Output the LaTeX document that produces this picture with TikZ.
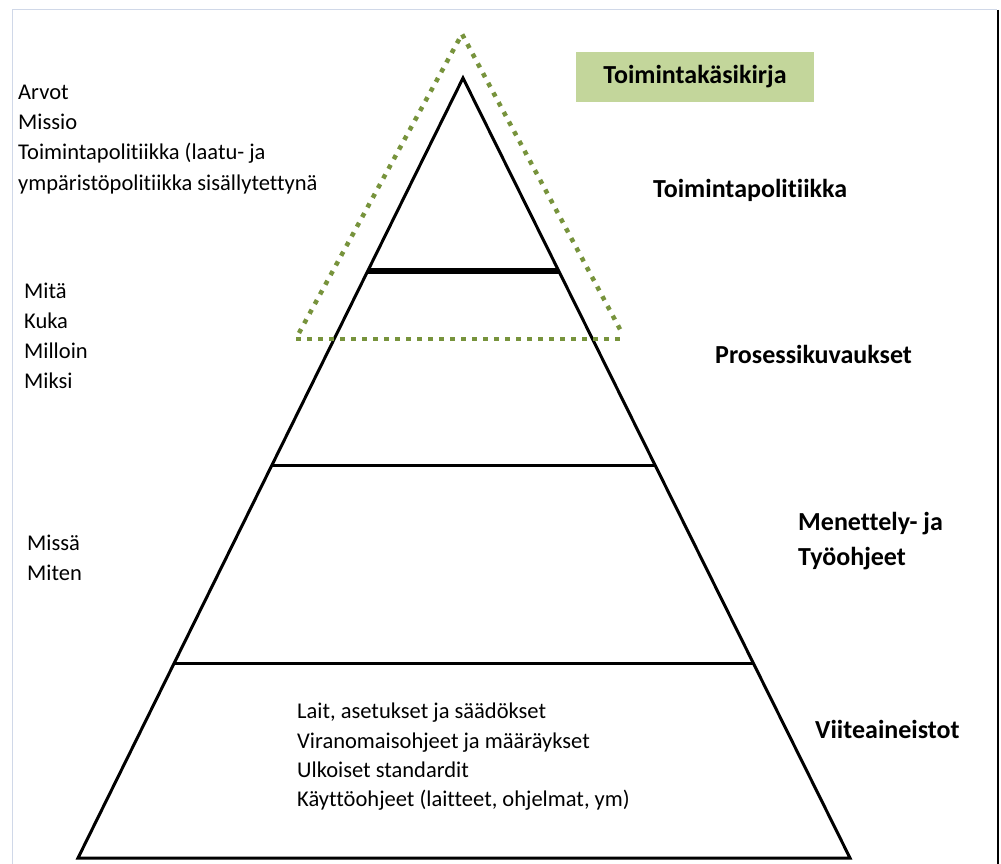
\documentclass[tikz,border=0pt]{standalone}
\usepackage{fontspec}
\setmainfont{Carlito}[Ligatures={NoCommon}]
\usetikzlibrary{calc}
\definecolor{olivedot}{HTML}{77933C}
\definecolor{olivefill}{HTML}{C3D69B}
\definecolor{framegray}{HTML}{D0D8E8}
\tikzset{
  lbl/.style={inner sep=0pt, anchor=base west, font=\fontsize{22.5}{30}\selectfont},
  hdr/.style={inner sep=0pt, anchor=base west, font=\fontsize{26}{34}\selectfont\bfseries},
  pyr/.style={line width=3pt, line join=miter},
  dotline/.style={olivedot, line width=4.5pt, dash pattern=on 4.5pt off 6.5pt},
}
\begin{document}
\begin{tikzpicture}[x=1pt,y=-1pt]
\useasboundingbox (0,0) rectangle (1001,864);
% frame
\draw[framegray, line width=1.5pt] (12.5,864) -- (12.5,9.5) -- (997,9.5);
\draw[black, line width=2pt] (997.5,10) -- (997.5,864);
% pyramid
\coordinate (apex) at (463,78);
\coordinate (bl) at (78,858);
\coordinate (br) at (850,858);
\draw[pyr] (bl) -- (apex) -- (br) -- cycle;
\coordinate (l1) at ($(apex)!0.2474!(bl)$);
\coordinate (r1) at ($(apex)!0.2474!(br)$);
\coordinate (l2) at ($(apex)!0.4974!(bl)$);
\coordinate (r2) at ($(apex)!0.4974!(br)$);
\coordinate (l3) at ($(apex)!0.75!(bl)$);
\coordinate (r3) at ($(apex)!0.75!(br)$);
\draw[line width=6pt] (l1) -- (r1);
\draw[pyr] (l2) -- (r2);
\draw[pyr] (l3) -- (r3);
% dotted triangle
\coordinate (dapex) at (462,34);
\coordinate (dl) at (299,333);
\coordinate (dr) at (622,333);
\coordinate (hl) at (296,339);
\coordinate (hr) at (624,339);
\draw[dotline] (dl) -- (dapex) -- (dr);
\draw[dotline] (hl) -- (hr);
% green box
\node[fill=olivefill, minimum width=238pt, minimum height=50pt, inner sep=0pt,
      font=\fontsize{26}{34}\selectfont\bfseries] (kasikirja) at (695,77) {\raisebox{0pt}[18pt][5pt]{Toimintakäsikirja}};
% right labels
\node[hdr] (tp) at (653,197) {Toimintapolitiikka};
\node[hdr] (pk) at (715,363) {Prosessikuvaukset};
\node[hdr] (me) at (798,530) {Menettely- ja};
\node[hdr] (ty) at (798,565) {Työohjeet};
\node[hdr] (vi) at (815,738) {Viiteaineistot};
% left labels
\node[lbl] (t1) at (18,100) {Arvot};
\node[lbl] (t2) at (18,130) {Missio};
\node[lbl] (t3) at (18,160) {Toimintapolitiikka (laatu- ja};
\node[lbl] (t4) at (18,190) {ympäristöpolitiikka sisällytettynä};
\node[lbl] (m1) at (24,298) {Mitä};
\node[lbl] (m2) at (24,328) {Kuka};
\node[lbl] (m3) at (24,358) {Milloin};
\node[lbl] (m4) at (24,388) {Miksi};
\node[lbl] (s1) at (27,550) {Missä};
\node[lbl] (s2) at (27,580) {Miten};
% bottom text
\node[lbl] (b1) at (297,718) {Lait, asetukset ja säädökset};
\node[lbl] (b2) at (297,748) {Viranomaisohjeet ja määräykset};
\node[lbl] (b3) at (297,777) {Ulkoiset standardit};
\node[lbl] (b4) at (297,806) {Käyttöohjeet (laitteet, ohjelmat, ym)};
\end{tikzpicture}
\end{document}
